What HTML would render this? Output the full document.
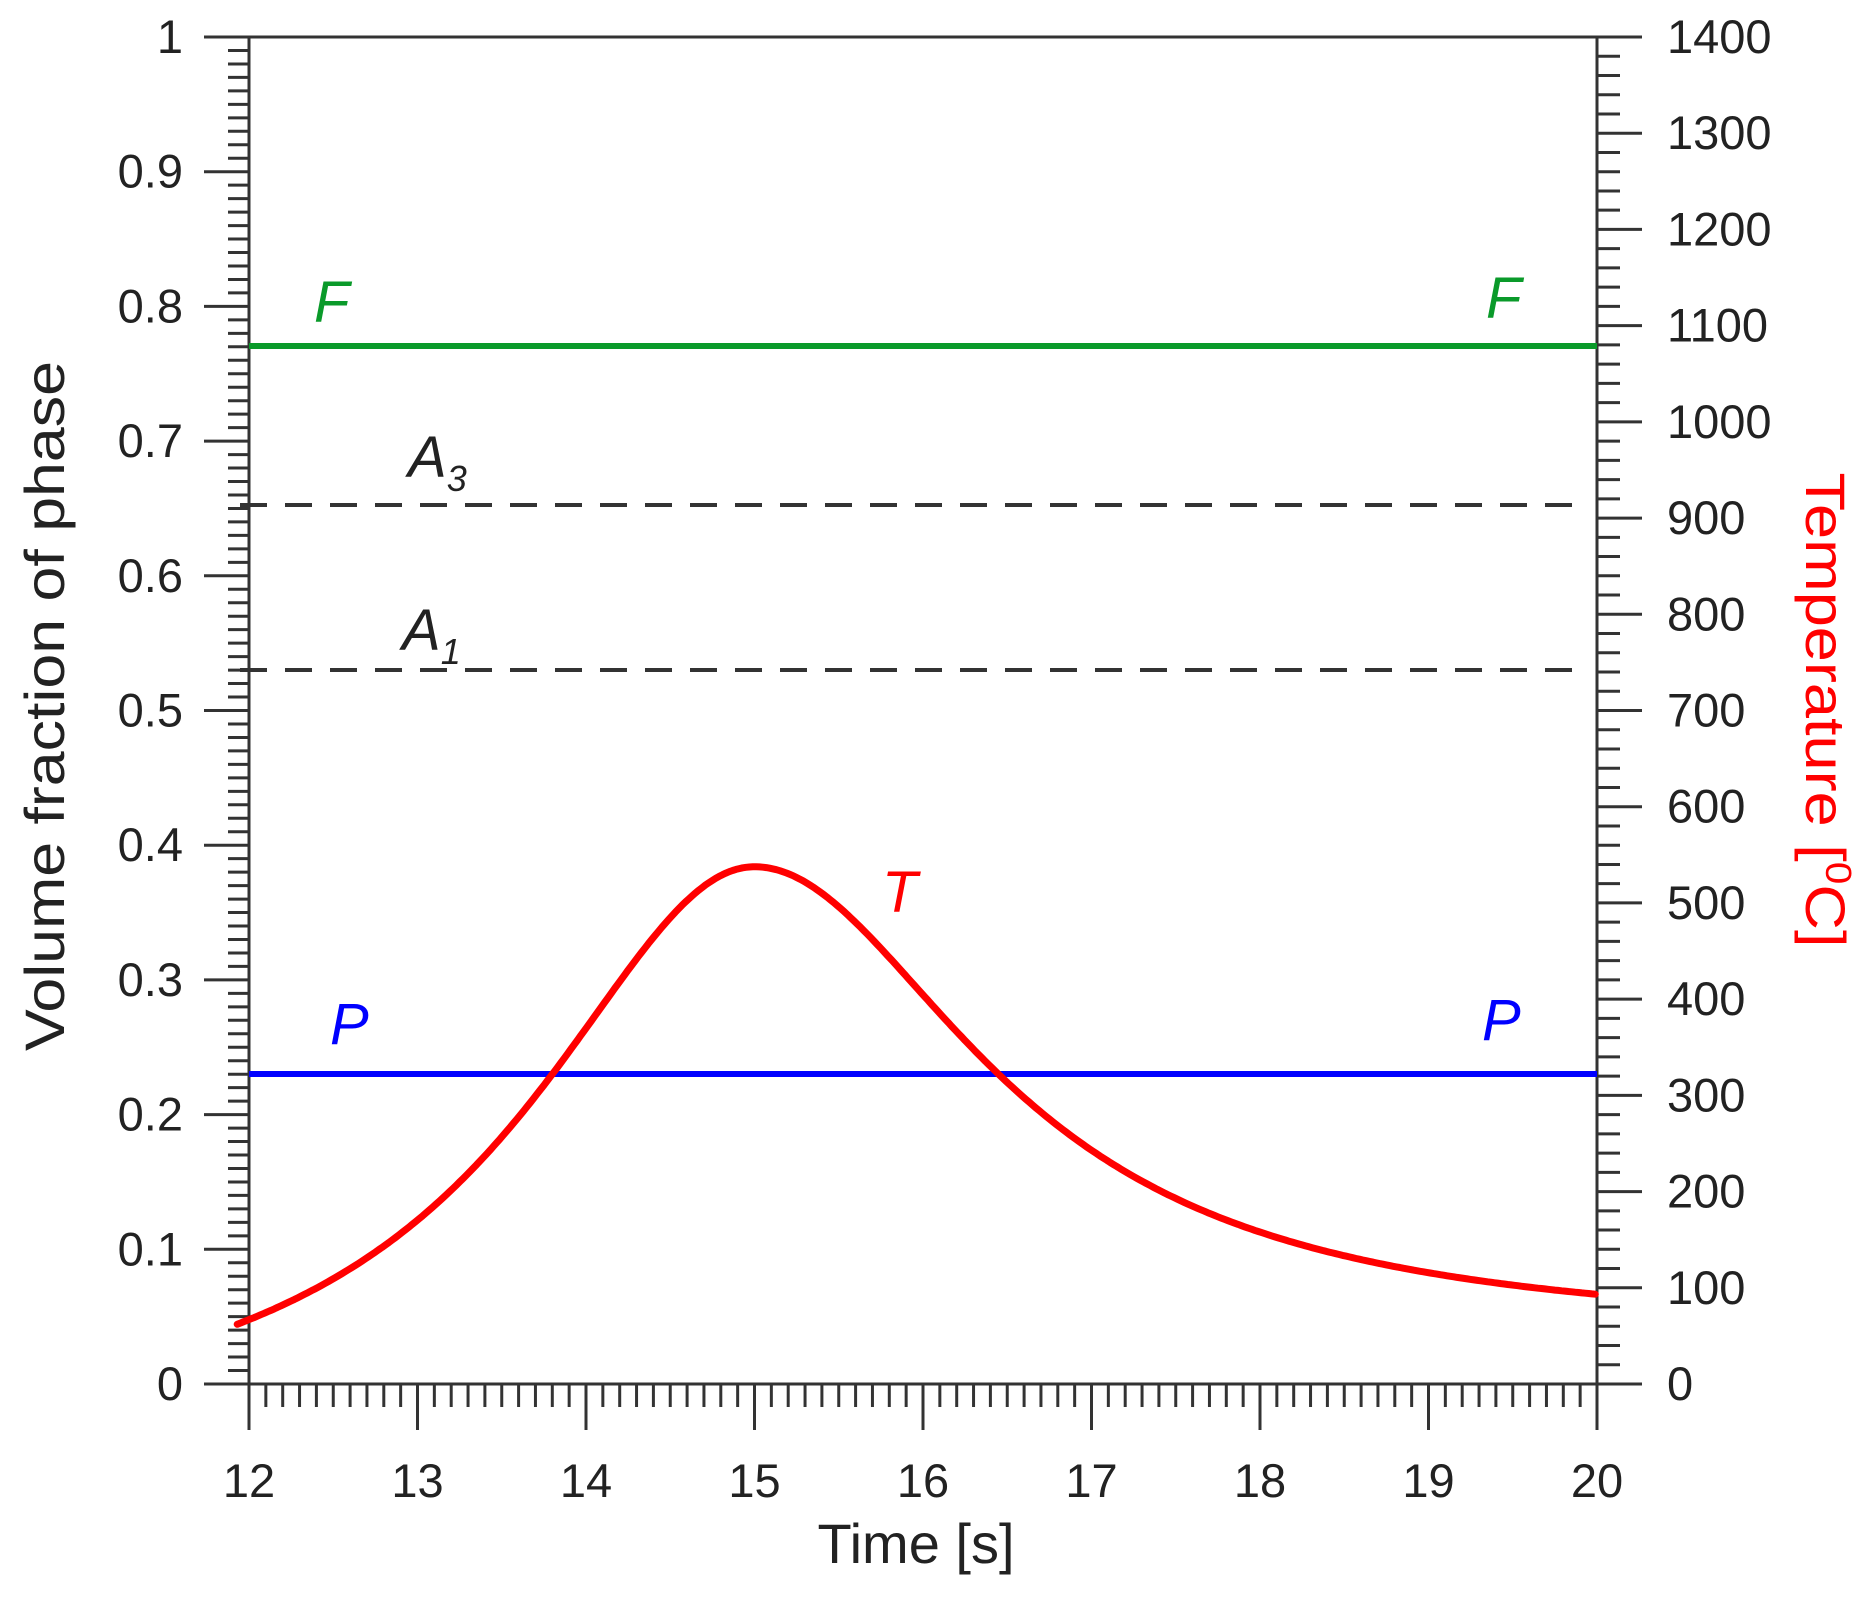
<!DOCTYPE html>
<html><head><meta charset="utf-8"><style>
html,body{margin:0;padding:0;background:#fff;}
svg{display:block;font-family:"Liberation Sans",Arial,sans-serif;}
</style></head><body>
<svg id="s" width="1872" height="1599" viewBox="0 0 1872 1599" xmlns="http://www.w3.org/2000/svg">
<g id="ticks" stroke="#333" stroke-width="3"></g>
<rect x="249" y="37" width="1348" height="1347" fill="none" stroke="#333" stroke-width="3"/>
<line x1="240" y1="505" x2="1575" y2="505" stroke="#333" stroke-width="4" stroke-dasharray="27,18"/>
<line x1="240" y1="670" x2="1575" y2="670" stroke="#333" stroke-width="4" stroke-dasharray="27,18"/>
<line x1="249" y1="346" x2="1597" y2="346" stroke="#0a9a2a" stroke-width="6"/>
<line x1="249" y1="1074" x2="1597" y2="1074" stroke="#0000ff" stroke-width="6"/>
<path id="T" fill="none" stroke="#ff0000" stroke-width="7" stroke-linecap="round" stroke-linejoin="round"/>
<g id="labels" font-size="47" fill="#222"></g>
<g font-size="58" font-style="italic">
<text x="314" y="322" fill="#0a9a2a">F</text>
<text x="1486" y="318" fill="#0a9a2a">F</text>
<text x="408" y="477" fill="#222">A<tspan font-size="36" dy="14">3</tspan></text>
<text x="402" y="650" fill="#222">A<tspan font-size="36" dy="14">1</tspan></text>
<text x="882" y="912" fill="#ff0000">T</text>
<text x="330" y="1044" fill="#0000ff">P</text>
<text x="1482" y="1040" fill="#0000ff">P</text>
</g>
<text transform="translate(64,706) rotate(-90)" text-anchor="middle" font-size="56" fill="#222" textLength="690" lengthAdjust="spacingAndGlyphs">Volume fraction of phase</text>
<text transform="translate(1806,710) rotate(90)" text-anchor="middle" font-size="56" fill="#ff0000" textLength="475" lengthAdjust="spacingAndGlyphs">Temperature [<tspan font-size="36" dy="-20">0</tspan><tspan dy="20">C]</tspan></text>
<text x="916" y="1563" text-anchor="middle" font-size="56" fill="#222">Time [s]</text>
</svg>
<script>
var NS="http://www.w3.org/2000/svg";
function X(t){return 249+(t-12)*168.5;}
function Y(v){return 1384-v*1347;}
var tk=document.getElementById('ticks'),lb=document.getElementById('labels');
function ln(a,b,c,d){var l=document.createElementNS(NS,'line');l.setAttribute('x1',a);l.setAttribute('y1',b);l.setAttribute('x2',c);l.setAttribute('y2',d);tk.appendChild(l);}
function tx(x,y,s,anc){var t=document.createElementNS(NS,'text');t.setAttribute('x',x);t.setAttribute('y',y);t.setAttribute('text-anchor',anc);t.textContent=s;lb.appendChild(t);}
for(var i=0;i<=100;i++){var y=Y(i/100);if(i%10==0){ln(204,y,249,y);tx(183,y+16,(i==0?'0':i==100?'1':(i/100).toFixed(1)),'end');}else ln(228,y,249,y);}
for(var i=0;i<=70;i++){var y=1384-i*1347/70;if(i%5==0){ln(1597,y,1642,y);tx(1667,y+16,String(i*20),'start');}else ln(1597,y,1620,y);}
for(var i=0;i<=80;i++){var x=X(12+i/10);if(i%10==0){ln(x,1384,x,1430);tx(x,1497,String(12+i/10),'middle');}else ln(x,1384,x,1407);}
function f(t){
 var x=t-15;
 if(x<0){var b=-0.05,A=0.384;return b+(A-b)/(1+0.382*x*x);}
 var b=0.04,A=0.384;return b+(A-b)/(1+0.378*x*x+0.004*x*x*x*x);
}
var d='';
for(var t=11.93;t<=20.0001;t+=0.02){d+=(d?' L':'M')+X(t).toFixed(1)+','+Y(f(t)).toFixed(1);}
document.getElementById('T').setAttribute('d',d);
</script>
</body></html>
